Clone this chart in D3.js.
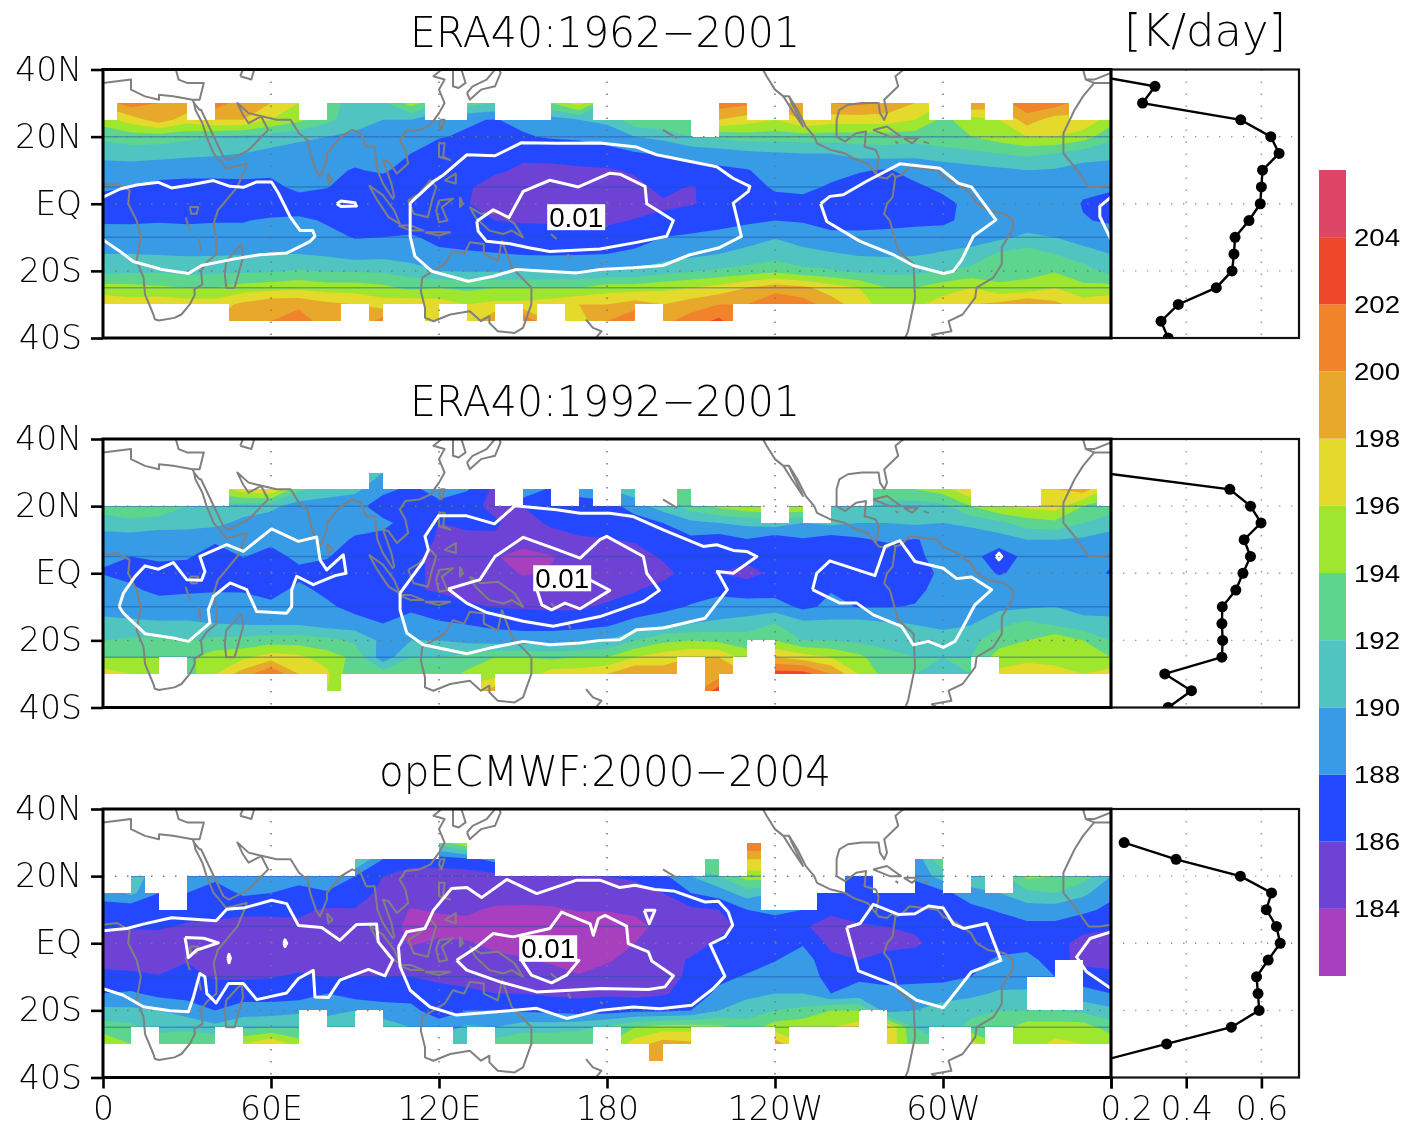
<!DOCTYPE html>
<html>
<head>
<meta charset="utf-8">
<script src="https://cdn.jsdelivr.net/npm/d3@7"></script>
<style>
body { margin: 0; background: #fff; }
svg { filter: blur(0.4px); }
text { font-family: "DejaVu Sans", sans-serif; font-weight: 200; fill: #000; }
</style>
</head>
<body>
<div id="chart"></div>
<script>
// grid of the shaded field: rows from 30N to 35S, columns from 0 to 350 every 10 deg
const gridLats = [30, 25, 20, 15, 10, 5, 0, -5, -10, -15, -20, -25, -30, -35];
const gridLons = d3.range(0, 370, 10);

const era62Field = [
 [199,201,200,199.5,201,199,198,196,194,190,191.5,195,192,193,192,192,194,197,192,193,194,196,201,200.5,199,200,200,200.5,199.5,198,196,200,199,201.5,201,199],
 [195,197,199,197,198,198,196,194.5,192.5,191,190,190,188.5,188.2,187.9,188.5,189,190,190.5,193.5,194,194,198,197,196,198,197,197,197,196,193.5,195,196,199,197,197.5],
 [192.5,193,193,192.5,192,191.5,191,190.5,190,189.5,189,188.5,188.1,187.8,187,187.8,188.2,188.3,188.8,190,190.5,192,192.5,193,193,193,193,193,193,193,193.5,194,195,196,196,195],
 [190.7,191,190.8,190.5,190.3,190,189.5,189,189,189,188.5,188,187.3,186.9,186.7,186.5,186.6,187,187.3,187.8,188.3,188.6,189,189.5,189.8,190,190,190.8,191,190.5,191,191.5,192,192.5,192,191],
 [189,188.9,188.7,188.6,188.6,188.6,188.5,188.7,188.6,187.8,188.4,186.8,186.4,186.3,186.4,185.6,185.6,185.7,185.8,186.2,186.6,187.2,187.6,187.9,188.7,188.9,188.8,188.2,187.8,188.8,189,189.3,189.6,190,189.8,189.2],
 [188.6,188,187.5,187.4,187.4,187.5,187.4,188.6,188.1,186.9,186.5,186.3,186.2,186.3,185,184.5,184.5,184.5,184.7,185.6,186.4,185.9,186.5,186.8,188.4,188.6,187.7,187,186.3,187.6,188.5,188.6,188.6,188.7,188.6,188.3],
 [186.5,186.3,186.3,186.2,186.3,186.4,186.6,186.8,186.7,186.2,186.3,186.3,186.2,186.1,185,185,184.7,184.7,184.8,185.3,185.8,185.9,186.4,186.5,187,187.2,186.9,186.5,186.3,186.4,187.4,188.6,188.4,188.4,189,187.9],
 [187.8,187.8,187.9,187.8,187.9,187.9,188.3,188.4,187.8,186.7,186.4,186.5,186.2,186.2,186,185.9,185.9,185.7,185.7,186.1,186.3,187,187.3,187.6,188,187.8,187.3,187.4,187.6,187.7,187.6,188.6,188.6,188.7,188.6,188.1],
 [188.8,188.7,188.7,188.7,188.7,188.7,188.7,189,188.5,187.9,188,188.3,187.3,187,186.8,186.5,186.4,186.6,186.7,187,188,188.3,188.6,189.3,189.9,189.3,188.5,188.4,188.4,188.5,189,189,189.5,190.5,190,189],
 [190,190,189.9,189.8,189.8,189.9,190,190,189.7,189,189.3,188.9,188.5,188.3,188.1,187.9,187.8,187.9,188,188.5,189,189.5,190,190.5,191,190.5,190.2,189.8,189.7,189.8,190.2,190.8,192.3,193,192,191],
 [191.3,191.6,191.7,191.3,191.6,191.6,191.7,192.2,191.8,191.8,191.7,191,190,189.8,189.8,189.8,190,190,190,190.2,191.2,191.8,192.3,192.8,193.5,192.5,192.2,191.5,191.4,191.5,192,192.5,193,193.5,193.8,192.8],
 [194.8,194.6,194.3,194,194,194.8,195.2,195.5,195,195,194.5,193.5,194,193.5,194,194,194,194,195,195,195.5,196,196.7,198,199,198.5,197,196,194,194,195,196,194.5,194.5,196,194.5],
 [197.5,197,197.5,197,197,198.5,199.5,199.6,198.5,198,197,197.5,197,196,196.5,196.5,197,198,198,199,198,199,200,200,202,201,199,197,195,195.5,197,198,198.5,200,198.5,197],
 [198,198,198,198,198,198.5,200,201,199,198,201,198,198,197,200,202,198,197,200,202,199.5,201,202.5,200,198,198,198,198,198,198,198,198,198,198,198,198]
];

const era92Field = [
 [195,195,195,195,195,197,198,192.5,191,190,190,187.6,188.7,188.2,185.5,190,187.5,189,190,191,192,193,194,195,196,196,194,193,193,194,195,198,198,198,198,199],
 [195,195,195,195,195,197,198,192.5,191,190.5,188.5,187.6,188.7,188.2,185.5,190,187.5,189,190,191,192,193,194,195,196,196,194,193,193,194,195,198,198,198,198,199],
 [193,193.5,193.5,192,191.5,191,190.5,189,189,188.7,187,187,187.5,186.5,185.6,186,186.5,186.8,187,189,191,193,194.5,195.5,196,196,192,191.5,191.5,191,191.5,194,196,196.5,197,194],
 [191,191.5,191,191,190.5,189.5,189,188.5,188.8,188.6,188.4,187.3,186,186.4,186.2,185.3,186.3,187,187,187,188,189.5,190,190.5,191,190,190.5,190,190,190.3,190,190.5,191.5,193,193.5,192],
 [189,188.9,188.6,188.5,188.4,188.4,188.5,188.6,188.7,187.8,187.5,186.9,185.8,185.5,185.8,184.6,185.2,185.7,185.9,186.2,186.5,187.5,187,187.9,186.8,187.8,187,187.7,188.3,187.9,188.5,188.7,189,190,190,189.7],
 [188.2,188,188.5,188.3,186.7,188.1,187.3,188.5,188.2,186.5,186.4,186.3,185.7,185,184.1,183.5,183.9,184.5,184.7,185.3,186.2,186.3,186.7,186.6,186.3,186.8,186.5,186.6,186.7,187.6,188.7,188.6,187,188.5,188.7,188.3],
 [187.9,187.7,186.8,186.8,186.5,186.7,186.6,187.5,186.9,186.2,186.2,186.3,185.7,184.8,184.5,183.9,184.1,184.4,184.4,184.8,185.5,186.7,186,185.3,186.5,186.9,187,186.8,186.5,186.9,188.5,188.6,187.9,188.3,188.5,188.4],
 [189,188.2,187.7,187.8,187.9,187.9,187.3,188.5,187.5,186.6,186.2,186.1,185.9,185.3,184.9,184.5,184,184.3,185,185.9,186.6,187,187.7,187.3,187.1,187.5,187.9,187.3,187.3,187.6,188.6,188.6,188.7,188.8,188.7,188.5],
 [189.3,188.8,188.6,188.7,188.7,188.6,188.5,188.6,188.4,187.3,186.8,187.7,186.5,186.3,185.9,185.8,185.7,185.6,186.4,186.7,187.3,188.2,188.5,188.7,189,187.5,188.5,187.9,187.9,188.1,188.7,188.7,189.5,189.7,190,189.5],
 [190.5,190.5,190.3,190.3,190,189.8,189.7,189.7,189,188.9,188,188.6,188.3,187.9,187.5,187.3,187.2,187.5,187.6,188.7,189.5,190,190.5,191,192,190.5,190.5,190.7,190.2,189.9,189.5,189.8,191.5,192.5,191.5,190.5],
 [192,192.3,192.3,192,192.5,192.6,193,193,192.6,191.6,189.5,190,190,189.5,189,188.9,189,189,190,192,193.5,194,193.5,193,194,192,192,191.5,191.5,191.3,190.8,191.5,193,194,195.5,194],
 [194,194,194,193.6,195,195.5,197,196.5,195,193.5,188.8,192,192,192.5,194,194,193.5,194,194,196,197,198,198,195,198,197,196,194.5,192.5,192,192,192,195,195,195,195],
 [197,196,195,193,196,199,202,198,196.5,192,193,193.5,192.5,194.5,195,194.5,197,197,198,200,199,199,199,198,203,203,200,196,193,192,191.5,192,196.5,198,197,196],
 [197,196,195,193,196,199,202,198,196,192,193,193.5,192.5,197,199,194.5,197,197,198,200,199,199,203,203,203,203,200,196,193,192,191.5,192,196.5,198,197,196]
];

const op00Field = [
 [190,190,190,190,190,190,190,190,190,192.5,188,187,193,196,188.5,188,188,188,188,188,188,188,202,202,202,190,190,190,190,188.5,194,192,192,192,192,192],
 [190,190,190,190,190,190,190,190,190,192.5,188,187,187,187.5,188.5,188,188,188,188,188,188,194,194,198,198,190,190,190,190,188.5,194,192,192,192,192,192],
 [190,191.5,188.5,188.5,188.5,188,188.6,188.6,189.5,188,186,185,185,185,185.5,186,185.5,185.7,186,186.3,187.5,190,192,195,195,190,190,187,188,188.5,191,192,191,194.5,194,193],
 [188.5,190.5,188,188,187,188.3,188,187.5,187.8,187,185.5,185,185,185,185,185.3,184.7,185,185,185.3,186,188,189,191,190,189,186.5,186.5,186.5,186.7,187.5,189,190,191.5,192,190.5],
 [187.5,186.5,187.3,187,186.8,186.7,186.5,186.3,185.8,185.9,185,183.9,184.2,184.3,183.7,183.5,183.8,184.1,184.1,184.3,185,185.6,186,188,188.5,188,186.4,186.4,186.5,186.3,186.7,187.5,188.2,189,189,188.5],
 [186.2,186.2,186.3,185.7,185.5,185,185.3,185.7,184.9,184.5,185,183.5,183.3,183.5,183.5,183.3,183,183.3,183.2,183.5,184.5,185.4,185.5,186.5,187,186.2,185.3,185.9,186,186.2,186.5,186.7,187,187.5,187.5,186.5],
 [185.2,185,184.9,184.9,185,185,184.9,184.8,185,184.8,185,183.8,184.3,184.1,183.8,183.5,183.2,183.3,183.2,184,184.5,185.2,186.3,187,187,187.8,185.5,185.3,185.5,185.8,186.5,186.5,186.7,187,186.5,185.5],
 [185.5,185.3,185.3,185.9,185,184.8,185,185.2,185,184.8,185,185.2,184.6,184.4,184.2,184.1,183.8,183.5,183.8,184.6,185.2,186.2,187.2,187.2,187.9,189,186.5,186,186.6,186.6,186.7,186.8,188.5,188.9,186.7,185.4],
 [186.4,186.4,186.1,186.5,185.8,185.8,185.9,186.3,185.9,186,186,186,185.7,185.5,185.4,185,184.6,184.1,184.8,185,185.4,186.3,187.5,188.2,189,189.2,187.2,187.7,187.5,187.5,187.5,188,188.9,188.5,188,187],
 [188,188.3,187.4,187.3,187,187,187,187,188,187,187,187.3,186.5,186.3,186,186,185.7,185.6,185.8,185.5,185.8,186.7,188.5,189.5,190,190,188,188.7,188.5,188.7,189,189.5,190.3,190.5,190,188.7],
 [190.5,190.4,190,189,188,189,189,189.5,189.5,190,189,188.5,187,188,188,187.7,187.5,187,187,187.5,187.5,188,190,191,192,192.5,194,194,189,190,191,191.5,192,192,192,191.5],
 [193,192.5,191,191.5,190.5,191.5,192,192,191,190,191,190,189,190.3,190,191,191,191.5,192.5,194,195,195,194.5,193,195,195.5,196,197,198,192,191,192.5,193,195,195,195],
 [195.5,194,194,193.5,194,196,198,195,192,191,192,191.5,191,191.5,193,194,194,194,194,197,199,198.5,194,194,199,196,195,197,198,192.5,192,197,194,195,196.5,196],
 [195.5,194,194,193.5,194,196,198,195,192,191,192,191.5,191,191.5,193,194,194,194,194,197,199,198.5,194,194,199,196,195,197,198,192.5,192,197,194,195,196.5,196]
];

// cells without data: [latTop, latBottom, lonStart, lonEnd]
const era62Missing = [
 ...[[0,5],[30,40],[70,80],[115,130],[140,160],[175,220],[230,245],[250,260],[295,310],[315,325],[345,360]].map(s => [30, 25, ...s]),
 [25, 20, 210, 220],
 ...[[0,45],[85,95],[100,115],[120,130],[140,150],[155,165],[190,200],[225,360]].map(s => [-30, -35, ...s])
];
const era92Missing = [
 ...[[0,95],[100,360]].map(s => [30, 25, ...s]),
 ...[[0,45],[140,150],[160,170],[175,185],[190,205],[210,275],[310,335],[355,360]].map(s => [25, 20, ...s]),
 ...[[235,245],[250,260]].map(s => [20, 15, ...s]),
 [-20, -25, 230, 240],
 ...[[20,30],[205,215],[225,240],[310,320]].map(s => [-25, -30, ...s]),
 ...[[0,80],[85,135],[140,215],[220,360]].map(s => [-30, -35, ...s])
];
const op00Missing = [
 ...[[0,120],[130,230],[235,360]].map(s => [30, 25, ...s]),
 ...[[0,90],[140,215],[220,230],[235,290],[300,360]].map(s => [25, 20, ...s]),
 ...[[0,10],[15,30],[235,265],[275,290],[300,310],[315,325]].map(s => [20, 15, ...s]),
 ...[[20,30],[235,255]].map(s => [15, 10, ...s]),
 [-10, -20, 330, 340],
 [-5, -20, 340, 350],
 ...[[70,80],[90,100],[270,280]].map(s => [-20, -25, ...s]),
 ...[[10,20],[40,50],[70,125],[130,140],[175,185],[210,240],[245,280],[295,310],[315,325]].map(s => [-25, -30, ...s]),
 ...[[0,195],[200,360]].map(s => [-30, -35, ...s])
];

// white contour lines as [lon, lat]
const era62Contours = [
 [[0,2],[6.1,4.4],[12,5.6],[19.8,6.4],[24.5,4.7],[31.1,5.6],[39.4,6.9],[45.4,5.2],[50.1,4.9],[54.9,6.5],[60.2,6.5],[62.6,3.2],[66.8,-3.8],[70.4,-8],[74.9,-8],[75.7,-9.7],[74,-11.2],[65.6,-14.7],[56.1,-15.2],[46.5,-16.5],[35.2,-18.4],[30.5,-20.8],[21,-19.6],[10.8,-17.2],[6.1,-14.2],[0,-10.7]],
 [[360,2],[356,-0.8],[356,-3.8],[360,-10.7]],
 [[83.5,0],[85,0.8],[90,0.3],[90.5,-0.7],[85,-0.8],[83.5,0]],
 [[109.7,0.2],[118,6.6],[121.6,8.6],[130,14.6],[140,14.3],[149.5,18.2],[162,18],[177.5,18.1],[190.6,16.9],[197.7,14.6],[219.2,11],[225,7.6],[231,5.2],[230.5,3.7],[225.1,0.2],[228,-9.7],[219.8,-13.2],[209.6,-15.2],[200,-18.4],[189.4,-19.1],[177.5,-19.6],[169.2,-20.6],[147.7,-19.6],[139.4,-21.6],[130.5,-23.1],[117.4,-20.1],[111.4,-15.7],[109.7,-9.7],[109.7,0.2]],
 [[133.5,-5.2],[139.4,-1.8],[145,-4.1],[150.1,3.7],[159.6,7],[169.8,5],[181,9.1],[184.6,8.8],[193.6,5.2],[194.2,0],[203.7,-5],[201.3,-9.7],[190.6,-11.5],[177.5,-13.5],[159.6,-14.2],[152.5,-13.2],[145.4,-11.9],[137,-11.2],[134,-8.2],[133.5,-5.2]],
 [[256.3,0],[259.6,2.2],[264.4,2.7],[272.7,6.7],[284.6,11.9],[298.9,10.6],[305.5,6.1],[310.2,5],[318.9,-4.8],[310.8,-9.7],[306.7,-16.7],[303.7,-20.1],[300.1,-20.8],[289.4,-18.4],[282.3,-15.2],[270.4,-11.2],[258.5,-5.3],[256.3,0]]
];
const era92Contours = [
 [[5.8,-9.9],[7.3,-5.9],[11.4,-1],[15,2.2],[19.8,1.2],[25.1,3.2],[29.9,-1.9],[35.2,-2.1],[36.4,0.5],[34.6,5],[44.2,8.5],[50.1,6.5],[60.2,13.2],[69.8,9.5],[76.3,10.8],[77.5,4],[79.9,1],[85.8,5.5],[86.8,0],[82.9,-0.7],[75.1,-3.4],[69.2,-0.9],[67.4,-4.9],[67.4,-9.9],[65.6,-11.9],[54.9,-11.4],[51.3,-4.9],[45.4,-2.9],[39.4,-6.9],[37.6,-10.9],[38.2,-14.8],[30.5,-20.3],[25.1,-19.3],[15,-18],[7.3,-11.9],[5.8,-9.9]],
 [[106.1,-5.9],[114.4,3.5],[116.2,7],[115,11],[119.8,17.1],[129.9,17.1],[139.8,14.7],[147.1,20.1],[162,18.9],[170.4,17.9],[181,17.9],[189.4,16.9],[200.1,12.9],[214.4,8],[219.2,8.5],[225.1,6.8],[229.9,6.5],[233.5,5],[225.1,0],[219.4,0.5],[223,-4.9],[215,-13.4],[200.1,-16.3],[190.6,-16.8],[184.6,-19.8],[177.5,-20],[170.4,-20.8],[159.6,-21.3],[150.1,-20.3],[138.2,-22.3],[129.9,-24],[114.4,-21.3],[108.5,-17.8],[106.1,-10.9],[106.1,-5.9]],
 [[123.3,-4.7],[134.6,-1.9],[140,5],[150.1,10.7],[160.8,7.5],[170.4,4.5],[177.5,10],[179.9,11],[193,5],[194.2,0],[198.7,-5.1],[193,-8.4],[177.5,-12.9],[160.8,-15.8],[150.1,-14.3],[137,-11.7],[129.9,-8.9],[123.3,-4.7]],
 [[154.9,-4.7],[156.7,-9.4],[160.2,-10.9],[165,-8.9],[170.4,-10.6],[181,-5.1],[174,-2],[162,-1],[154.9,-4.7]],
 [[253.4,-4.9],[254.9,0],[259.6,3.7],[275.7,-0.7],[279.3,8],[284.6,9.7],[290,3.5],[300.1,1.5],[304.9,-1.6],[310.2,-1.1],[317.4,-4.9],[311.4,-9.4],[307.3,-15.8],[304.3,-20.3],[300.1,-22.1],[294.8,-20.3],[289.4,-21.3],[285.2,-15.8],[275.1,-12.4],[269.2,-8.9],[263.2,-8.9],[253.4,-4.9]],
 [[319,5],[320,6],[321,5],[320,4],[319,5]]
];
const op00Contours = [
 [[0,3.7],[8.5,4.4],[14.4,5.7],[24.5,7.6],[40.4,6.7],[44.2,10.1],[50.7,10.6],[60.2,12.8],[65.6,11.8],[69.8,5.3],[78.1,4.7],[84.6,0.9],[90.6,5.6],[97.7,5.7],[98.3,0.4],[103.5,-4.9],[100.7,-9.7],[94.8,-7.8],[84.6,-11],[80.5,-16.2],[75.7,-16],[75.1,-8.1],[69.8,-10.5],[65.6,-14.8],[54.9,-16.8],[50.1,-12],[44.8,-12],[40.4,-17.8],[37.1,-15],[36.4,-10],[34.6,-9],[32.3,-16],[30.5,-20.4],[24,-20.1],[14.4,-18.9],[7.3,-15.5],[0,-13.5]],
 [[360,3.4],[352.5,1.4],[347.7,-4.1],[351.3,-8.5],[360,-13.5]],
 [[29.3,1.7],[36,1.5],[41.2,0.1],[33.5,-2],[30.5,-4.3],[29.3,1.7]],
 [[64.6,0],[65,1],[65.6,0],[65,-1],[64.6,0]],
 [[44.6,-4.5],[45,-3.3],[45.5,-4.5],[45,-5.8],[44.6,-4.5]],
 [[105.5,-1.1],[108.5,3.4],[115,4.4],[118,9.8],[124.5,16.3],[130,16.6],[135.2,13.6],[144.2,19],[154.9,14.8],[169.2,18.8],[177.5,18.8],[184.6,16.6],[190,17.3],[197.1,16],[203.7,15.6],[215,12.3],[219.8,12.5],[223.3,9.3],[224.9,5.4],[222.1,1.9],[216.8,-0.3],[222.1,-9.8],[218,-13.5],[210.2,-18.5],[198.9,-19.5],[189.4,-19],[177.5,-20],[165.6,-22.4],[154.9,-19.4],[140.6,-20.4],[126.3,-21.4],[116.8,-19],[109.7,-14],[106.1,-7],[105.5,-1.1]],
 [[126.3,-5.1],[133.5,-1.1],[139.4,2.9],[146.5,1.9],[159.6,4.4],[163.8,9.3],[174,5.8],[175.1,2.4],[176.9,7.3],[179.3,8.3],[187,5.1],[187.6,-0.1],[194.8,-2.6],[196,-5.3],[203.7,-9.7],[200.7,-13],[194.8,-13.8],[177.5,-13.5],[166.8,-14],[154.9,-14.5],[141.8,-11.5],[129.9,-8],[126.3,-5.1]],
 [[149.5,-5.1],[153,-9.5],[160.2,-11.8],[165.6,-9.5],[170,-5.1],[149.5,-5.1]],
 [[193.3,9.8],[197.1,9.8],[195.1,5.8],[193.3,9.8]],
 [[265.6,4.7],[270.4,5.9],[275.1,11.6],[284,8.6],[290,8.8],[294.8,11.1],[300.1,10.5],[303.7,5.7],[307.3,4.4],[315.6,5.9],[320.7,-5.1],[310.2,-8.5],[300.1,-19.2],[290.6,-17],[282.9,-12.5],[269.8,-8.2],[265.6,4.7]]
];

// right hand profiles [K/day], one value every 5 deg from 40N to 40S
const profileLats = d3.range(40, -45, -5);
const era62Profile = [0.067,0.317,0.284,0.545,0.625,0.647,0.603,0.600,0.597,0.567,0.530,0.527,0.522,0.480,0.379,0.333,0.352];
const era92Profile = [null,null,0.17,0.516,0.571,0.599,0.554,0.571,0.551,0.532,0.496,0.495,0.497,0.495,0.343,0.414,0.352];
const op00Profile = [null,null,0.235,0.373,0.544,0.627,0.613,0.640,0.650,0.618,0.587,0.591,0.594,0.520,0.348,0.176,null];

// coastlines as [lon, lat]
const coastlines = [
 // africa, arabia, south and east asia
 [[0,5.5],[5,6],[9.5,4],[9,0],[12,-5],[13.5,-10],[12,-17],[14.5,-22],[15,-27],[18,-33],[18.5,-34.4],[20,-34.8],[25.5,-34],[28,-33],[31,-30],[32.8,-27],[32.6,-25.5],[35.5,-24],[35,-20],[37,-17.5],[40.5,-15],[40.5,-11],[39.5,-6],[41,-2],[44,1],[48,5],[51,11],[51.3,12],[44,10.5],[43,11.5],[39.5,15],[37,20],[35.5,24],[33,28],[32.5,30],[34.5,28],[35,28],[39,21],[43,14],[45,13],[52,16],[59,22],[56.5,26],[52,24],[50,26.5],[48,30],[52,27],[57,26],[62,25],[67,25],[70,21],[73,19],[74,15],[76,10],[77.5,8],[80,13],[80,15],[85,20],[89,22],[92,21],[94,17],[97,17],[98,10],[100,6],[103.5,1.5],[104,2],[103,6],[100,13],[102,12.5],[105,9],[109,12],[108,16],[106,19],[108,21.5],[113,22],[117,23.5],[120,27],[122,30],[120,34],[122,37],[118,38],[121,40]],
 // north africa, turkey, levant
 [[0,36],[10,37],[10,34],[15,32],[20,31],[20,32.5],[25,32],[32,31],[34.5,31],[36,36],[30,36],[27,37],[26,40]],
 [[32.5,30],[32,31]],
 [[49,38],[53,37],[54,40],[50,40],[49,38]],
 [[80,9],[82,7],[80.5,6],[80,9]],
 // korea, japan
 [[125,40],[125,35],[127,34.5],[129.5,36],[128,40]],
 [[130,33],[131,31],[135,34],[140,35],[142,39],[141,41],[140,40],[137,37],[132,35],[130,33]],
 [[120.5,25],[122,25],[120.8,22],[120,23.5],[120.5,25]],
 // indonesia and neighbours
 [[95,5.5],[100,2.5],[104,-2],[106,-6],[102,-4],[98,1],[95,5.5]],
 [[109,1],[113,3],[117,7],[119,5],[117.5,1],[116,-4],[111,-3],[109,1]],
 [[105.5,-6.5],[110,-6.5],[114.5,-8],[110,-8],[105.5,-6.5]],
 [[115,-8.5],[119,-8.5],[124,-8.5],[120,-9.5],[115,-8.5]],
 [[120,1],[125,1.5],[121,-1],[123,-5],[120,-5.5],[119,-2],[120,1]],
 [[120,18],[122,18],[121.5,14],[124,13],[120,14],[120,18]],
 [[122,7],[126,9],[126,6],[122,7]],
 [[127.5,2],[128.5,0],[127.5,-1],[127.5,2]],
 [[131,-1],[135,-3],[141,-2.5],[147,-6],[150,-10],[146,-8],[143,-9],[138,-8],[133,-4],[131,-1]],
 // australia, new zealand
 [[114,-22],[113.5,-26],[115,-31],[115,-34],[118,-35],[124,-33],[131,-32],[135,-35],[138,-33.5],[138,-35.5],[141,-38],[147,-38.5],[150,-37],[153,-30],[153,-25],[146,-19],[142.5,-11],[141,-17],[136,-15],[136,-12],[131,-11.5],[129,-15],[125,-14],[122,-18],[114,-22]],
 [[172.5,-34.5],[175,-37],[178,-38],[175,-41]],
 [[145,-40],[148,-40.5]],
 // small islands and lakes
 [[49.5,-12],[50,-16],[47,-25],[44,-25],[43.5,-21],[44,-17],[49.5,-12]],
 [[31,-1],[34,-1],[33.5,-3],[31.5,-3],[31,-1]],
 [[29.5,-4],[31,-8]],
 [[34,-10],[35,-14]],
 [[160,-9],[162,-10.5]],
 [[166,-15],[167,-16.5]],
 [[177.5,-17.5],[178.5,-18]],
 [[200,22],[202,21],[204,20],[205,19.5]],
 // americas
 [[235.7,40],[237,38],[240,34],[243,32],[245,32],[248,28],[251,23],[254,20],[255,18],[260,16],[265,15],[268,13.5],[273,12],[275,10],[277,8],[280,7.5],[282,9],[283,8],[282,2],[280,0],[279,-3],[281,-5],[284,-14],[289.5,-18],[290,-28],[287.5,-38],[286.5,-40]],
 [[243,32],[246,28],[250,23],[249,25],[246,30],[245,32]],
 [[283,8],[285,8.5],[288,11],[293,10.5],[298,10],[300,8],[305,6],[310,3],[312,0],[316,-2],[322,-3],[325,-5],[325,-7.5],[321,-13],[321,-18],[318,-22],[312,-25],[311.5,-28],[307,-33],[302,-35],[303,-38],[296,-39],[298,-40]],
 [[276,9],[276.5,11],[277,14],[276,16],[272,17],[272.5,21.5],[269,21],[265,18.5],[262,20],[262,25],[263,28],[266,29.5],[271,30],[277,30],[277.5,27],[279,25],[280,27],[279,31],[284,35],[283,38],[286,40]],
 [[275,22],[280,23],[285,20],[281,20],[275,22]],
 [[286,19.5],[291,19.5],[289,18],[286,19.5]],
 [[283,18.5],[284,18]],
 [[293,18.5],[295,18]],
 // west africa and iberia
 [[350,40],[351,37],[354,36],[350,32],[347,28],[343,21],[343,15],[347,11],[352,5],[356,5],[360,5.5]],
 [[354,36],[360,36]],
 [[351,37],[354,37],[360,39]]
];

// shading levels
const levels = [184, 186, 188, 190, 192, 194, 196, 198, 200, 202, 204];
const shadeColors = ["#a83fbe", "#6f42d6", "#2448ff", "#379be5", "#50c4c1", "#5dd58e", "#9fe62f", "#e4da2c", "#e7a82c", "#f1832b", "#ef472a", "#de4668"];
const latTicks = [40, 20, 0, -20, -40];
const latLabels = ["40N", "20N", "EQ", "20S", "40S"];
const lonTicks = [0, 60, 120, 180, 240, 300, 360];
const lonLabels = ["0", "60E", "120E", "180", "120W", "60W", ""];
const profileTicks = [0.2, 0.4, 0.6];

const panels = [
 { name: "era62", title: "ERA40:1962\u22122001", top: 69.5, titleLen: 390, field: era62Field, missing: era62Missing, contours: era62Contours, profile: era62Profile, label: [169, -4] },
 { name: "era92", title: "ERA40:1992\u22122001", top: 439, titleLen: 390, field: era92Field, missing: era92Missing, contours: era92Contours, profile: era92Profile, label: [164, -1.5] },
 { name: "op00", title: "opECMWF:2000\u22122004", top: 809, titleLen: 452, field: op00Field, missing: op00Missing, contours: op00Contours, profile: op00Profile, label: [159, -1.5] }
];

const mapLeft = 103, mapRight = 1111, profileRight = 1299, panelH = 268.5;
const tickFont = 33;

const svg = d3.select("#chart").append("svg")
    .attr("width", 1406)
    .attr("height", 1128)
    .style("display", "block");
const defs = svg.append("defs");

const x = d3.scaleLinear().domain([0, 360]).range([mapLeft, mapRight]);
const px = d3.scaleLinear().domain([0.2, 0.7]).range([mapRight, profileRight]);

panels.forEach(p => {
    const y = d3.scaleLinear().domain([40, -40]).range([p.top, p.top + panelH]);
    const yr = v => Math.round(y(v));
    const xr = v => Math.round(x(v));

    // whole pixel edges so the masks leave no hairlines
    defs.append("clipPath").attr("id", "data-" + p.name).append("rect")
        .attr("x", x(0)).attr("y", yr(30)).attr("width", x(360) - x(0)).attr("height", yr(-35) - yr(30));
    defs.append("clipPath").attr("id", "map-" + p.name).append("rect")
        .attr("x", x(0)).attr("y", y(40)).attr("width", x(360) - x(0)).attr("height", panelH);
    defs.append("clipPath").attr("id", "prof-" + p.name).append("rect")
        .attr("x", px(0.2)).attr("y", y(40)).attr("width", profileRight - mapRight).attr("height", panelH);

    // shading: lay the bands from the lowest level up
    const values = [];
    p.field.forEach(row => row.concat(row[0]).forEach(v => values.push(v)));
    const contours = d3.contours().size([gridLons.length, gridLats.length]).thresholds([100].concat(levels))(values);
    const toMap = d3.geoTransform({
        point(cx, cy) {
            this.stream.point(x((cx - 0.5) * 10), y(30 - (cy - 0.5) * 5));
        }
    });
    const shade = svg.append("g").attr("clip-path", `url(#data-${p.name})`);
    shade.selectAll("path")
        .data(contours)
        .enter().append("path")
        .attr("d", d3.geoPath(toMap))
        .attr("fill", (d, i) => shadeColors[i]);

    shade.selectAll("line")
        .data([20, 5, -10, -25])
        .enter().append("line")
        .attr("x1", x(0)).attr("x2", x(360))
        .attr("y1", d => y(d)).attr("y2", d => y(d))
        .attr("stroke", "#1c4fb0")
        .attr("stroke-opacity", 0.45)
        .attr("stroke-width", 1.5);

    svg.append("g").selectAll("rect")
        .data(p.missing)
        .enter().append("rect")
        .attr("x", d => xr(d[2]))
        .attr("y", d => yr(d[0]))
        .attr("width", d => xr(d[3]) - xr(d[2]))
        .attr("height", d => yr(d[1]) - yr(d[0]))
        .attr("fill", "#fff");

    const map = svg.append("g").attr("clip-path", `url(#map-${p.name})`);
    const geoLine = d3.line().x(d => x(d[0])).y(d => y(d[1]));

    // dotted grid
    map.selectAll(".vgrid")
        .data(lonTicks.slice(1, -1))
        .enter().append("line")
        .attr("x1", d => x(d)).attr("x2", d => x(d))
        .attr("y1", y(40)).attr("y2", y(-40));
    map.selectAll(".hgrid")
        .data([20, 0, -20])
        .enter().append("line")
        .attr("x1", x(0)).attr("x2", x(360))
        .attr("y1", d => y(d)).attr("y2", d => y(d));
    map.selectAll("line")
        .attr("stroke", "#777")
        .attr("stroke-width", 1.5)
        .attr("stroke-dasharray", "1.5 10.5");

    map.selectAll(".coast")
        .data(coastlines)
        .enter().append("path")
        .attr("d", geoLine)
        .attr("fill", "none")
        .attr("stroke", "#808080")
        .attr("stroke-width", 2)
        .attr("stroke-linejoin", "round");

    map.selectAll(".contour")
        .data(p.contours)
        .enter().append("path")
        .attr("d", geoLine)
        .attr("fill", "none")
        .attr("stroke", "#fff")
        .attr("stroke-width", 3)
        .attr("stroke-linejoin", "round");

    // contour label
    const lx = x(p.label[0]), ly = y(p.label[1]);
    svg.append("rect")
        .attr("x", lx - 29).attr("y", ly - 13).attr("width", 58).attr("height", 26)
        .attr("fill", "#fff");
    svg.append("text")
        .attr("x", lx).attr("y", ly + 10)
        .attr("text-anchor", "middle")
        .attr("textLength", 54)
        .attr("lengthAdjust", "spacingAndGlyphs")
        .style("font-family", "'Liberation Sans', sans-serif")
        .style("font-weight", 400)
        .style("font-size", "27px")
        .text("0.01");

    // profile panel
    const prof = svg.append("g").attr("clip-path", `url(#prof-${p.name})`);
    prof.selectAll(".pv")
        .data([0.4, 0.6])
        .enter().append("line")
        .attr("x1", d => px(d)).attr("x2", d => px(d))
        .attr("y1", y(40)).attr("y2", y(-40));
    prof.selectAll(".ph")
        .data([20, 0, -20])
        .enter().append("line")
        .attr("x1", mapRight).attr("x2", profileRight)
        .attr("y1", d => y(d)).attr("y2", d => y(d));
    prof.selectAll("line")
        .attr("stroke", "#999")
        .attr("stroke-width", 1.4)
        .attr("stroke-dasharray", "1.4 10.6");

    const profilePoints = profileLats.map((lat, i) => ({ lat: lat, v: p.profile[i] }));
    const profileLine = d3.line()
        .defined(d => d.v !== null)
        .x(d => px(d.v))
        .y(d => y(d.lat));
    prof.append("path")
        .datum(profilePoints)
        .attr("d", profileLine)
        .attr("fill", "none")
        .attr("stroke", "#000")
        .attr("stroke-width", 2.4);
    prof.selectAll("circle")
        .data(profilePoints.filter(d => d.v !== null))
        .enter().append("circle")
        .attr("cx", d => px(d.v))
        .attr("cy", d => y(d.lat))
        .attr("r", 5.5)
        .attr("fill", "#000");

    svg.append("rect")
        .attr("x", mapRight).attr("y", y(40))
        .attr("width", profileRight - mapRight).attr("height", panelH)
        .attr("fill", "none").attr("stroke", "#111").attr("stroke-width", 2.2);
    svg.append("rect")
        .attr("x", mapLeft).attr("y", y(40))
        .attr("width", mapRight - mapLeft).attr("height", panelH)
        .attr("fill", "none").attr("stroke", "#000").attr("stroke-width", 3);

    // axes
    const latAxis = svg.append("g")
        .attr("transform", `translate(${mapLeft},0)`)
        .call(d3.axisLeft(y).tickValues(latTicks).tickSize(12).tickPadding(9)
            .tickFormat((d, i) => latLabels[i]));
    latAxis.select(".domain").remove();
    latAxis.selectAll("line").attr("stroke", "#000").attr("stroke-width", 2.6);
    latAxis.selectAll("text")
        .style("font-size", tickFont + "px")
        .style("font-family", "'DejaVu Sans', sans-serif")
        .style("font-weight", 200);

    svg.append("text")
        .attr("x", 605).attr("y", y(40) - 23)
        .attr("text-anchor", "middle")
        .attr("textLength", p.titleLen)
        .attr("lengthAdjust", "spacingAndGlyphs")
        .style("font-size", "42px")
        .text(p.title);
});

// bottom axes go on the last panel
const bottomY = panels[2].top + panelH;
const lonAxis = svg.append("g")
    .attr("transform", `translate(0,${bottomY})`)
    .call(d3.axisBottom(x).tickValues(lonTicks).tickSize(11).tickPadding(8)
        .tickFormat((d, i) => lonLabels[i]));
const profAxis = svg.append("g")
    .attr("transform", `translate(0,${bottomY})`)
    .call(d3.axisBottom(px).tickValues(profileTicks).tickSize(11).tickPadding(8)
        .tickFormat(d3.format(".1f")));
[lonAxis, profAxis].forEach(a => {
    a.select(".domain").remove();
    a.selectAll("line").attr("stroke", "#000").attr("stroke-width", 2.6);
    a.selectAll("text")
        .style("font-size", tickFont + "px")
        .style("font-family", "'DejaVu Sans', sans-serif")
        .style("font-weight", 200);
});
// first profile label sits right of its tick, past the map's closing 0
profAxis.selectAll("text").filter(d => d === 0.2).attr("dx", 15);

svg.append("text")
    .attr("x", 1205).attr("y", 46)
    .attr("text-anchor", "middle")
    .attr("textLength", 162)
    .attr("lengthAdjust", "spacingAndGlyphs")
    .style("font-size", "44px")
    .text("[K/day]");

// colour bar
const barY = d3.scaleLinear().domain([182, 206]).range([976, 170]);
const barEdges = [182].concat(levels, [206]);
svg.append("g").selectAll("rect")
    .data(shadeColors)
    .enter().append("rect")
    .attr("x", 1319)
    .attr("width", 27)
    .attr("y", (d, i) => barY(barEdges[i + 1]))
    .attr("height", (d, i) => barY(barEdges[i]) - barY(barEdges[i + 1]))
    .attr("fill", d => d);
svg.append("g").selectAll("text")
    .data(levels)
    .enter().append("text")
    .attr("x", 1354)
    .attr("y", d => barY(d) + 8.5)
    .attr("textLength", 46)
    .attr("lengthAdjust", "spacingAndGlyphs")
    .style("font-family", "'Liberation Sans', sans-serif")
    .style("font-weight", 400)
    .style("font-size", "24px")
    .text(d => d);
</script>
</body>
</html>
